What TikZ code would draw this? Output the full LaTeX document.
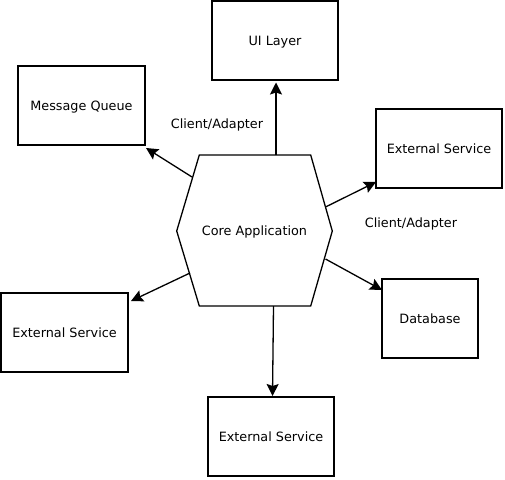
\documentclass[tikz,border=0pt]{standalone}
\usepackage{fontspec}
\setmainfont{DejaVu Sans}
\usetikzlibrary{arrows.meta}
\begin{document}
\begin{tikzpicture}[x=1pt,y=-1pt,
  font=\fontsize{12.8}{15}\selectfont,
  box/.style={draw, line width=1.3pt, inner sep=0pt, minimum height=79pt, text depth=0pt, text height=9.3pt},
  conn/.style={-{Stealth[length=12pt,width=12pt,inset=2pt]}, line width=1.3pt},
  lbl/.style={inner sep=0pt, text depth=0pt, text height=9.3pt}]
\useasboundingbox (0,0) rectangle (505,479);
% boxes
\node[box, minimum width=126pt] (ui)  at (275,40.5)   {UI Layer};
\node[box, minimum width=127pt] (mq)  at (81.5,105.5) {Message Queue};
\node[box, minimum width=126pt] (esr) at (439,148.5)  {External Service};
\node[box, minimum width=96pt]  (db)  at (430,318.5)  {Database};
\node[box, minimum width=127pt] (esl) at (64.5,332.5) {External Service};
\node[box, minimum width=126pt] (esb) at (271,436.5)  {External Service};
% hexagon
\draw[line width=1.3pt, line join=miter] (199.3,155) -- (310.7,155) -- (332.3,231) -- (310.7,306) -- (199.3,306) -- (176.7,231) -- cycle;
\node[lbl] (core) at (254.5,231) {Core Application};
% connector start points on hexagon
\coordinate (cu)  at (276,155);
\coordinate (cmq) at (192,177);
\coordinate (cer) at (325.5,207);
\coordinate (cdb) at (325.5,259);
\coordinate (cel) at (190,273);
\coordinate (cd)  at (273.5,306);
% connector end points on boxes
\coordinate (eu)  at (276,82.5);
\coordinate (emq) at (146,148);
\coordinate (eer) at (376,182);
\coordinate (edb) at (382,290);
\coordinate (eel) at (131,301);
\coordinate (ed)  at (272.5,396);
\draw[conn] (cu) -- (eu);
\draw[conn] (cmq) -- (emq);
\draw[conn] (cer) -- (eer);
\draw[conn] (cdb) -- (edb);
\draw[conn] (cel) -- (eel);
\draw[conn] (cd) -- (ed);
% labels
\node[lbl] (l1) at (217,124) {Client/Adapter};
\node[lbl] (l2) at (411,223) {Client/Adapter};
\end{tikzpicture}
\end{document}
